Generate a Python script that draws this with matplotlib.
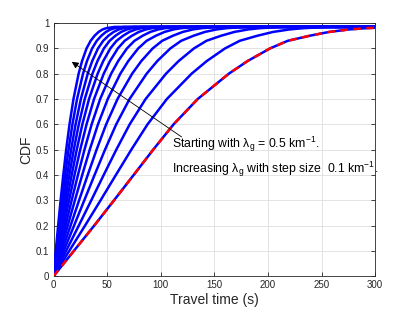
import numpy as np
import matplotlib
matplotlib.use("Agg")
import matplotlib.pyplot as plt

plt.rcParams['font.family'] = ['Liberation Sans', 'DejaVu Sans']
plt.rcParams['mathtext.fontset'] = 'custom'
plt.rcParams['mathtext.rm'] = 'Liberation Sans'
plt.rcParams['mathtext.it'] = 'Liberation Sans:italic'

# CDF levels and the travel time (s) at which each curve reaches them
cdf_levels = [0, 0.1, 0.2, 0.3, 0.4, 0.5, 0.6, 0.7, 0.8, 0.85, 0.9,
              0.93, 0.95, 0.965, 0.975, 0.98, 0.985]

curve_01 = [0, 2.1, 4.3, 6.6, 9.1, 11.8, 14.9, 18.6, 23.4, 26.6, 30.8, 34.6, 38.3, 42.0, 45.8, 49.3, 57.0]
curve_02 = [0, 2.53, 5.18, 7.90, 10.85, 14.02, 17.63, 21.93, 27.51, 31.2, 36.0, 40.31, 44.6, 48.83, 53.17, 57.17, 65.83]
curve_03 = [0, 3.0, 6.14, 9.34, 12.76, 16.43, 20.57, 25.49, 31.88, 36.08, 41.5, 46.32, 51.2, 55.97, 60.87, 65.37, 74.97]
curve_04 = [0, 3.5, 7.14, 10.83, 14.75, 18.91, 23.57, 29.12, 36.3, 40.98, 47.0, 52.3, 57.75, 63.03, 68.47, 73.42, 83.86]
curve_05 = [0, 4.06, 8.27, 12.51, 16.96, 21.66, 26.89, 33.11, 41.14, 46.36, 53.0, 58.79, 64.86, 70.67, 76.67, 82.11, 93.39]
curve_06 = [0, 4.73, 9.6, 14.49, 19.58, 24.9, 30.79, 37.79, 46.82, 52.64, 60.0, 66.35, 73.12, 79.54, 86.2, 92.18, 104.4]
curve_07 = [0, 5.55, 11.23, 16.92, 22.78, 28.87, 35.55, 43.5, 53.74, 60.28, 68.5, 75.52, 83.12, 90.28, 97.72, 104.36, 117.65]
curve_08 = [0, 6.57, 13.27, 19.95, 26.76, 33.8, 41.46, 50.58, 62.3, 69.73, 79.0, 86.83, 95.46, 103.51, 111.9, 119.34, 133.92]
curve_09 = [0, 7.89, 15.91, 23.87, 31.91, 40.17, 49.09, 59.69, 73.32, 81.89, 92.5, 101.35, 111.31, 120.5, 130.08, 138.54, 154.75]
curve_10 = [0, 9.54, 19.18, 28.72, 38.29, 48.05, 58.48, 70.9, 86.85, 96.79, 109.0, 119.05, 130.6, 141.16, 152.19, 161.83, 179.93]
curve_11 = [0, 11.75, 23.58, 35.24, 46.83, 58.58, 71.04, 85.9, 104.9, 116.68, 131.0, 142.63, 156.31, 168.64, 181.59, 192.81, 213.33]
curve_12 = [0, 14.69, 29.44, 43.92, 58.2, 72.58, 87.71, 105.73, 128.78, 142.93, 160.0, 173.66, 190.1, 204.75, 220.18, 233.42, 257.0]
curve_13 = [0, 19.0, 38.0, 56.5, 74.8, 93.0, 112.0, 134.5, 163.5, 181.0, 202.0, 218.5, 239.0, 257.0, 276.0, 292.0, 320.0]

blue_curves = [curve_01, curve_02, curve_03, curve_04, curve_05, curve_06, curve_07,
               curve_08, curve_09, curve_10, curve_11, curve_12, curve_13]
red_curve = curve_13

x_ticks = [0, 50, 100, 150, 200, 250, 300]
y_ticks = [0, 0.1, 0.2, 0.3, 0.4, 0.5, 0.6, 0.7, 0.8, 0.9, 1]
y_tick_labels = ['0', '0.1', '0.2', '0.3', '0.4', '0.5', '0.6', '0.7', '0.8', '0.9', '1']

fig = plt.figure(figsize=(4.15, 3.12), dpi=100)
ax = fig.add_axes([0.129, 0.115, 0.775, 0.811])

def extend(xs, ys):
    xs = list(xs); ys = list(ys)
    if xs[-1] < 300:
        xs.append(300); ys.append(ys[-1])
    return xs, ys

for c in blue_curves:
    xs, ys = extend(c, cdf_levels)
    ax.plot(xs, ys, color='#0000FF', lw=1.8, solid_joinstyle='round', zorder=3)

xs, ys = extend(red_curve, cdf_levels)
ax.plot(xs, ys, color='#FF0000', lw=1.8, dashes=(3, 2.2), zorder=4)

ax.set_xlim(0, 300)
ax.set_ylim(0, 1)
ax.set_xticks(x_ticks)
ax.set_yticks(y_ticks)
ax.set_yticklabels(y_tick_labels)
ax.grid(True, color='#dedede', lw=0.6)
ax.set_axisbelow(True)
ax.tick_params(direction='in', top=True, right=True, length=3, width=0.6,
               labelsize=7, colors='#262626', pad=3)
for s in ax.spines.values():
    s.set_color('#262626')
    s.set_linewidth(0.6)

ax.set_xlabel('Travel time (s)', fontsize=10, color='#262626', labelpad=2)
ax.set_ylabel('CDF', fontsize=10, color='#262626', labelpad=2)

ax.annotate('', xy=(17, 0.847), xytext=(119.5, 0.55),
            arrowprops=dict(arrowstyle='-|>', lw=0.6, color='black',
                            mutation_scale=10, shrinkA=0, shrinkB=0), zorder=5)

ax.text(110.5, 0.505, r'Starting with $\mathregular{\lambda_g}$ = 0.5 km$^{\mathregular{-1}}$.',
        fontsize=8.8, va='baseline', ha='left', color='#000000', zorder=6)
ax.text(110.5, 0.408, r'Increasing $\mathregular{\lambda_g}$ with step size  0.1 km$^{\mathregular{-1}}$.',
        fontsize=8.8, va='baseline', ha='left', color='#000000', zorder=6, clip_on=False)

fig.savefig('out.png', dpi=100)
